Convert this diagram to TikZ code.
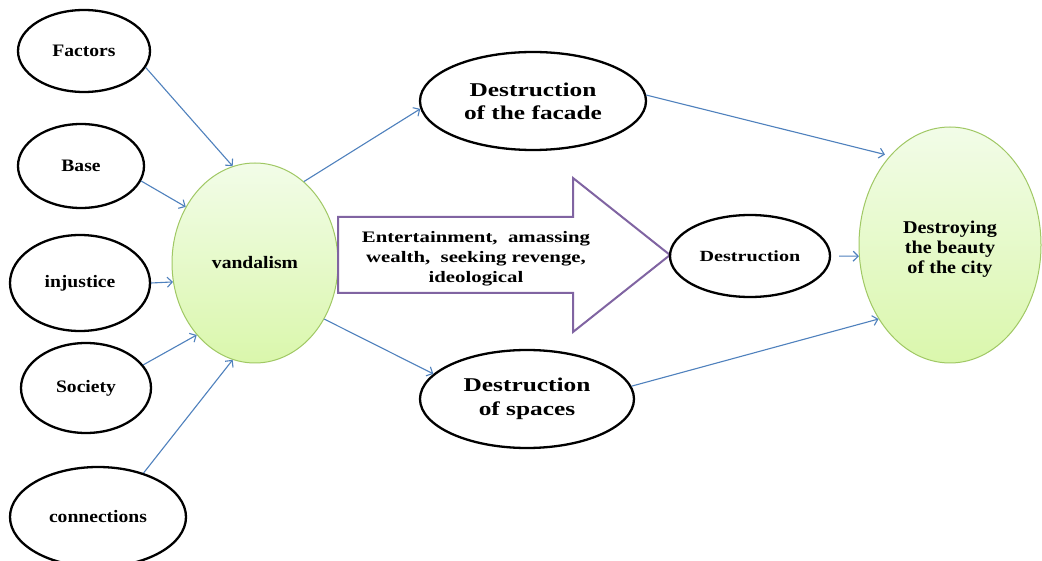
\documentclass[tikz,border=0pt]{standalone}
\usepackage{fontspec}
\newfontfamily\lbl[FakeStretch=1.12]{Liberation Serif}
\newfontfamily\lblw[FakeStretch=1.3]{Liberation Serif}
\usetikzlibrary{arrows.meta,shapes.geometric}
\definecolor{conn}{RGB}{79,129,189}
\definecolor{purp}{RGB}{128,100,162}
\definecolor{grnb}{RGB}{160,200,100}
\definecolor{grntop}{RGB}{242,252,232}
\definecolor{grnbot}{RGB}{218,247,172}
\begin{document}
\begin{tikzpicture}[x=1pt,y=-1pt,
  oval/.style={ellipse, draw=black, line width=2.3pt, inner sep=0pt, align=center, font=\lbl\bfseries\fontsize{17.5}{20}\selectfont},
  goval/.style={ellipse, draw=grnb, line width=1pt, top color=grntop, bottom color=grnbot, inner sep=0pt, align=center},
  link/.style={draw=conn, line width=1.1pt, -{Straight Barb[length=5pt,width=10pt]}},
  bigarrow/.style={draw=purp, line width=2pt, fill=white, line join=miter}
]
\clip (0,0) rectangle (1042,561);
\fill[white] (0,0) rectangle (1042,561);

% left ellipses
\node[oval, minimum width=132pt, minimum height=82pt] (fac) at (84,51) {Factors};
\node[oval, minimum width=126pt, minimum height=84pt] (base) at (81,166) {Base};
\node[oval, minimum width=140pt, minimum height=96pt] (inj) at (80,283) {injustice};
\node[oval, minimum width=130pt, minimum height=90pt] (soc) at (86,388) {Society};
\node[oval, minimum width=176pt, minimum height=100pt] (con) at (98,517) {connections};

% vandalism
\node[goval, minimum width=166pt, minimum height=200pt, font=\lbl\bfseries\fontsize{17.5}{20}\selectfont] (van) at (255,263) {vandalism};

% big purple arrow
\draw[bigarrow] (338,217) -- (573,217) -- (573,178) -- (670,255) -- (573,332) -- (573,293) -- (338,293) -- cycle;
\node[align=center, font=\lblw\bfseries\fontsize{16}{20}\selectfont] (mot) at (476,259) {Entertainment,\ \ amassing\\wealth,\ \ seeking revenge,\\ideological};

% middle ellipses
\node[oval, minimum width=226pt, minimum height=98pt, font=\lblw\bfseries\fontsize{19.5}{23}\selectfont] (fac2) at (533,101) {Destruction\\of the facade};
\node[oval, minimum width=214pt, minimum height=98pt, font=\lblw\bfseries\fontsize{19.5}{24}\selectfont] (spa) at (527,399) {Destruction\\of spaces};
\node[oval, minimum width=160pt, minimum height=82pt, font=\lblw\bfseries\fontsize{15.5}{18}\selectfont] (des) at (750,256) {Destruction};

% right ellipse
\node[goval, minimum width=182pt, minimum height=236pt, font=\lbl\bfseries\fontsize{18}{20}\selectfont] (city) at (950,245) {\raisebox{-5pt}[\height][\depth]{\begin{tabular}{@{}c@{}}Destroying\\the beauty\\of the city\end{tabular}}};

% connectors
\draw[link] (fac.-15) -- (van.103);
\draw[link] (base.-14) -- (van.141);
\draw[link] (inj.0) -- (van.193);
\draw[link] (soc.22) -- (van.231);
\draw[link] (con.44) -- (van.257);
\draw[link] (van.59) -- (fac2.184);
\draw[link] (van.-39) -- (spa.165);
\draw[link, shorten >=5pt] (fac2.3) -- (city.124);
\draw[link] (spa.7) -- (city.226);
\draw[link, shorten <=8pt] (des.0) -- (city.187);
\end{tikzpicture}
\end{document}
